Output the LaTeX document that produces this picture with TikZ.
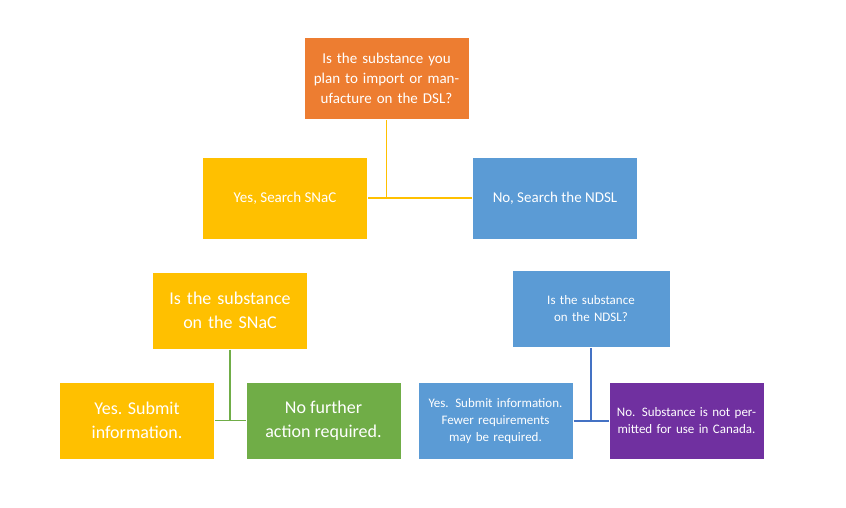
\documentclass[tikz,border=0pt]{standalone}
\usepackage{fontspec}
\setmainfont{Carlito}
\usetikzlibrary{positioning}
\definecolor{orangebox}{HTML}{ED7D31}
\definecolor{yellowbox}{HTML}{FFC000}
\definecolor{bluebox}{HTML}{5B9BD5}
\definecolor{greenbox}{HTML}{70AD47}
\definecolor{purplebox}{HTML}{7030A0}
\definecolor{darkblueline}{HTML}{4472C4}
\tikzset{
  box/.style={draw=white,line width=1pt,text=white,align=center,
    minimum width=165pt,minimum height=82pt,inner sep=4pt},
  small/.style={box,minimum width=155pt,minimum height=77pt}
}
\begin{document}
\begin{tikzpicture}[x=1pt,y=-1pt]
   \useasboundingbox (0,0) rectangle (846,507);
   \node[box,fill=orangebox,text width=150pt,font=\fontsize{15}{20}\selectfont] (dsl) at (386.5,78.5)
      {Is the substance you plan to import or manufacture on the DSL?};
   \node[box,fill=yellowbox,font=\fontsize{15}{20}\selectfont] (snac) at (285,198) {Yes, Search SNaC};
   \node[box,fill=bluebox,font=\fontsize{15}{20}\selectfont] (ndsl) at (555,198) {No, Search the NDSL};
   \node[small,fill=yellowbox,text width=145pt,font=\fontsize{18}{24}\selectfont] (onsnac) at (230,310.5)
      {Is the substance on the SNaC};
   \node[small,fill=yellowbox,font=\fontsize{18}{24}\selectfont] (yessub) at (137,420.5)
      {Yes. Submit\\information.};
   \node[small,fill=greenbox,font=\fontsize{18}{24}\selectfont] (nofurther) at (323.5,420.5)
      {No further\\action required.};
   \node[small,fill=bluebox,text width=150pt,font=\fontsize{13}{17}\selectfont] (onndsl) at (591,309)
      {Is the substance on the NDSL?};
   \node[small,fill=bluebox,text width=140pt,font=\fontsize{13}{17}\selectfont] (fewer) at (495.5,421)
      {Yes. Submit information. Fewer requirements may be required.};
   \node[small,fill=purplebox,text width=140pt,font=\fontsize{13}{17}\selectfont] (notperm) at (686.5,421)
      {No. Substance is not permitted for use in Canada.};
   % connectors
   \coordinate (j1) at (dsl.south |- snac.east);
   \draw[yellowbox,line width=1.5pt] (dsl.south) -- (j1) (snac.east) -- (ndsl.west);
   \coordinate (j2) at (onsnac.south |- yessub.east);
   \draw[greenbox,line width=1.5pt] (onsnac.south) -- (j2) (yessub.east) -- (nofurther.west);
   \coordinate (j3) at (onndsl.south |- fewer.east);
   \draw[darkblueline,line width=1.5pt] (onndsl.south) -- (j3) (fewer.east) -- (notperm.west);
\end{tikzpicture}
\end{document}
